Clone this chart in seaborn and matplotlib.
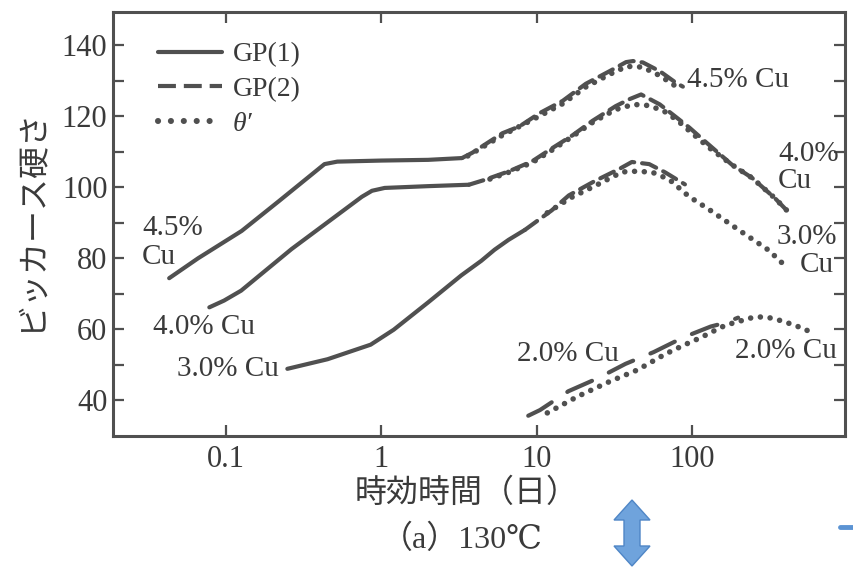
import matplotlib
matplotlib.use("Agg")
import matplotlib.pyplot as plt
import seaborn as sns
import pandas as pd
from matplotlib.lines import Line2D
from matplotlib.patches import Polygon
from matplotlib.ticker import FixedLocator, NullLocator

# ---------------- data (aging time [days], Vickers hardness) ----------------
t_45_gp1 = [0.043, 0.066, 0.126, 0.219, 0.43, 0.52, 1.0, 2.0, 3.3]
v_45_gp1 = [74.4, 80.0, 87.7, 96.1, 106.5, 107.2, 107.5, 107.7, 108.2]
t_45_gp2 = [3.3, 3.85, 6.02, 7.74, 10.4, 14.7, 20.7, 29.6, 37.6, 41.7, 48.3, 62.2, 78.7, 87.3]
v_45_gp2 = [108.2, 109.7, 115.2, 117.1, 120.8, 124.3, 129.1, 132.7, 135.2, 135.5, 135.1, 132.6, 129.4, 128.3]
t_45_th = [3.6, 6.0, 10.4, 14.7, 20.7, 29.6, 38.0, 48.0, 62.0, 78.0]
v_45_th = [108.8, 114.6, 120.0, 123.5, 128.2, 131.8, 134.0, 133.8, 131.4, 128.5]

t_40_gp1 = [0.078, 0.097, 0.125, 0.264, 0.748, 0.87, 1.05, 2.0, 3.66]
v_40_gp1 = [66.2, 68.1, 70.9, 82.6, 97.3, 99.0, 99.8, 100.3, 100.7]
t_40_gp2 = [3.66, 4.65, 6.64, 9.35, 12.6, 17.0, 22.9, 32.2, 39.7, 47.0, 62.0, 78.0, 96.0,
            122.0, 181.0, 244.0, 342.0, 420.0]
v_40_gp2 = [100.7, 102.1, 104.5, 107.3, 111.0, 114.6, 118.7, 122.8, 124.8, 126.1, 123.3, 119.9,
            116.8, 112.8, 106.3, 102.6, 96.9, 92.9]
t_40_th = [5.0, 6.6, 9.4, 12.6, 17.0, 23.0, 32.0, 42.0, 52.0, 65.0, 80.0, 100.0, 129.0,
           181.0, 244.0, 342.0, 420.0]
v_40_th = [102.3, 104.2, 107.0, 110.5, 114.3, 118.3, 121.8, 123.3, 123.0, 121.6, 118.9, 115.2,
           111.1, 106.3, 102.6, 96.9, 92.9]

t_30_gp1 = [0.248, 0.45, 0.853, 1.2, 2.0, 3.27, 4.4, 5.35, 6.59, 8.4]
v_30_gp1 = [48.9, 51.6, 55.7, 59.9, 67.6, 75.2, 79.3, 82.4, 85.2, 88.0]
t_30_gp2 = [8.4, 12.5, 16.1, 23.8, 33.9, 41.0, 53.0, 67.0, 90.0]
v_30_gp2 = [88.0, 93.5, 97.7, 101.8, 105.1, 107.1, 106.5, 104.2, 100.8]
t_30_th = [11.7, 16.5, 23.8, 35.5, 44.3, 55.5, 71.2, 95.5, 128.0, 209.0, 311.0, 393.0]
v_30_th = [92.8, 97.0, 100.4, 104.3, 104.5, 104.2, 102.2, 97.4, 93.8, 87.4, 82.3, 78.1]

t_20_gp2 = [8.82, 10.5, 16.0, 24.6, 37.3, 56.6, 88.5, 132.0, 165.0, 198.0]
v_20_gp2 = [35.7, 37.3, 42.6, 46.2, 50.3, 53.6, 57.8, 60.8, 61.9, 63.3]
t_20_th = [11.7, 18.5, 29.4, 44.6, 67.6, 91.0, 114.0, 136.0, 165.0, 239.0, 278.0, 322.0,
           363.0, 403.0, 453.0, 517.0, 582.0]
v_20_th = [36.5, 41.2, 45.3, 48.6, 53.1, 55.8, 57.7, 59.4, 61.2, 63.2, 63.5, 63.2, 62.6,
           62.0, 61.2, 60.3, 59.2]

x_ticks = [0.1, 1, 10, 100]
x_tick_labels = ["0.1", "1", "10", "100"]
y_ticks = [40, 60, 80, 100, 120, 140]
y_minor = [50, 70, 90, 110, 130]
legend_labels = ["GP(1)", "GP(2)", "θ′"]

# ---------------- styling ----------------
sns.set_theme(style="white")
plt.rcParams["font.family"] = ["Liberation Serif", "DejaVu Serif", "Noto Sans CJK JP"]

INK = "#505050"
TXT = "#3a3a3a"
SOLID = "-"
DASH = (0, (3.6, 1.9))
DOT = (0, (0.01, 1.75))
DASH_LONG = (0, (6.5, 4.5))
LW = 3.0
LW_DOT = 4.0

W, H = 854, 573
fig = plt.figure(figsize=(W / 100, H / 100), dpi=100)
fig.patch.set_facecolor("white")


def px(x, y):
    return x / W, 1 - y / H


ax = fig.add_axes([113 / W, 1 - 436 / H, (845 - 113) / W, (436 - 12) / H])
ax.set_xscale("log")

series = [
    (t_45_gp1, v_45_gp1, SOLID, LW),
    (t_45_gp2, v_45_gp2, DASH, LW),
    (t_45_th, v_45_th, DOT, LW_DOT),
    (t_40_gp1, v_40_gp1, SOLID, LW),
    (t_40_gp2, v_40_gp2, DASH, LW),
    (t_40_th, v_40_th, DOT, LW_DOT),
    (t_30_gp1, v_30_gp1, SOLID, LW),
    (t_30_gp2, v_30_gp2, DASH, LW),
    (t_30_th, v_30_th, DOT, LW_DOT),
    (t_20_gp2, v_20_gp2, DASH_LONG, LW),
    (t_20_th, v_20_th, DOT, LW_DOT),
]
for t, v, ls, lw in series:
    df = pd.DataFrame({"t": t, "v": v})
    sns.lineplot(data=df, x="t", y="v", ax=ax, color=INK, lw=lw,
                 estimator=None, sort=False)
    ln = ax.lines[-1]
    ln.set_linestyle(ls)
    ln.set_dash_capstyle("round")
    ln.set_solid_capstyle("round")

ax.set_xlim(0.0187, 966)
ax.set_ylim(30, 149.3)
ax.set_xlabel("")
ax.set_ylabel("")
ax.set_xticks(x_ticks)
ax.set_xticklabels(x_tick_labels)
ax.xaxis.set_minor_locator(NullLocator())
ax.set_yticks(y_ticks)
ax.set_yticklabels([str(v) for v in y_ticks])
ax.yaxis.set_minor_locator(FixedLocator(y_minor))
ax.tick_params(which="both", direction="in", bottom=True, left=True, top=True, right=True,
               length=8, width=1.6, color=INK, labelsize=22, labelcolor=TXT)
ax.tick_params(axis="x", pad=6.5)
ax.tick_params(axis="y", pad=4)
for s in ax.spines.values():
    s.set_linewidth(2.2)
    s.set_color(INK)
    s.set_visible(True)

# legend
handles = [Line2D([], [], color=INK, lw=LW, linestyle=SOLID),
           Line2D([], [], color=INK, lw=LW, linestyle=(0, (4.3, 1.9))),
           Line2D([], [], color=INK, lw=4.4, linestyle=(0, (0.01, 2.1)),
                  dash_capstyle="round")]
leg = ax.legend(handles, legend_labels, loc="upper left", bbox_to_anchor=px(158, 42),
                bbox_transform=fig.transFigure, frameon=False, fontsize=20,
                handlelength=2.3, handletextpad=0.4, labelspacing=0.33,
                borderpad=0, borderaxespad=0)
for txt in leg.get_texts():
    txt.set_color(TXT)
leg.get_texts()[2].set_fontstyle("italic")

# curve labels
lab_fs = 21
labels = [
    ("4.5%", 142, 228), ("Cu", 142, 257),
    ("4.0% Cu", 153, 327), ("3.0% Cu", 177, 369),
    ("4.5% Cu", 687, 80),
    ("4.0%", 778, 154), ("Cu", 778, 181),
    ("3.0%", 777, 237), ("Cu", 800, 265),
    ("2.0% Cu", 517, 354), ("2.0% Cu", 735, 351),
]
for s, x, y in labels:
    fig.text(*px(x, y), s, ha="left", va="center", fontsize=lab_fs, color=TXT)

# axis titles
fig.text(*px(30, 220), "ビッカース硬さ", rotation=90, ha="center", va="center",
         fontsize=23, color=TXT, family=["Noto Sans CJK JP", "DejaVu Sans"])
fig.text(*px(467, 493), "時効時間（日）", ha="center", va="center",
         fontsize=23, color=TXT, family=["Noto Sans CJK JP", "DejaVu Sans"])
fig.text(*px(462, 540), "（a）130℃", ha="center", va="center", fontsize=23, color=TXT,
         family=["Liberation Serif", "DejaVu Serif", "Noto Sans CJK JP"])

# slide decoration: blue double arrow and small dash
cx = 632
arrow_px = [(cx, 500), (cx + 18, 520), (cx + 8, 520), (cx + 8, 546), (cx + 18, 546),
            (cx, 566), (cx - 18, 546), (cx - 8, 546), (cx - 8, 520), (cx - 18, 520)]
fig.patches.append(Polygon([px(x, y) for x, y in arrow_px], closed=True,
                           transform=fig.transFigure, facecolor="#6fa3dc",
                           edgecolor="#4f86c6", lw=1))
fig.add_artist(Line2D([px(840, 527)[0], 1.0], [px(840, 527)[1]] * 2,
                      transform=fig.transFigure, color="#5b93d3", lw=3.5))

fig.savefig("out.png", dpi=100, facecolor="white")
